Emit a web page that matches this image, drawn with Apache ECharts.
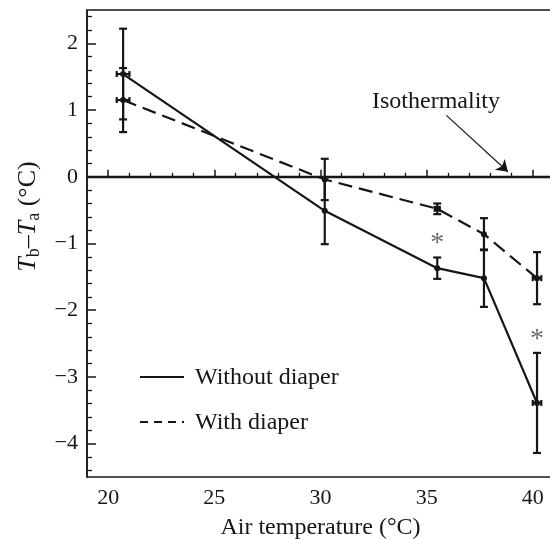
<!DOCTYPE html>
<html>
<head>
<meta charset="utf-8">
<script src="https://cdn.jsdelivr.net/npm/echarts@6/dist/echarts.min.js"></script>
<style>
  html, body { margin: 0; padding: 0; background: #fff; }
  #chart { width: 550px; height: 539px; }
</style>
</head>
<body>
<div id="chart"></div>
<script>
// air temperatures of the groups (°C)
var airTemps = [20.7, 30.2, 35.5, 37.7, 40.2];
// Tb - Ta, mean and error
var withoutDiaper = [1.54, -0.51, -1.37, -1.52, -3.39];
var withoutErr = [0.68, 0.5, 0.16, 0.43, 0.75];
var withoutTempErr = [0.3, 0, 0, 0, 0.2];
var withDiaper = [1.15, -0.04, -0.48, -0.86, -1.52];
var withErr = [0.48, 0.31, 0.08, 0.24, 0.39];
var withTempErr = [0.3, 0, 0.12, 0, 0.2];
// significance marks
var starPoints = [[35.5, -0.9], [40.2, -2.33]];
// axis ticks
var xMajor = [20, 25, 30, 35, 40];
var xMinor = [21, 22, 23, 24, 26, 27, 28, 29, 31, 32, 33, 34, 36, 37, 38, 39, 41];
var yMajor = [-4, -3, -2, -1, 0, 1, 2];
var yMinor = [];
for (var k = -22; k <= 12; k++) {
  if (k % 5 !== 0) yMinor.push(k / 5);
}

var ink = "#161616";
var serif = "Liberation Serif";

function pairs(a, b) {
  return a.map(function (v, i) { return [v, b[i]]; });
}
function errRows(xs, ys, e, ex) {
  return xs.map(function (v, i) { return [v, ys[i], e[i], ex[i]]; });
}

function renderErr(params, api) {
  var x = api.value(0), y = api.value(1), e = api.value(2), ex = api.value(3);
  var hi = api.coord([x, y + e]);
  var lo = api.coord([x, y - e]);
  var st = { stroke: ink, lineWidth: 2.2 };
  var c = 4;
  var kids = [
    { type: "line", shape: { x1: hi[0], y1: hi[1], x2: lo[0], y2: lo[1] }, style: st },
    { type: "line", shape: { x1: hi[0] - c, y1: hi[1], x2: hi[0] + c, y2: hi[1] }, style: st },
    { type: "line", shape: { x1: lo[0] - c, y1: lo[1], x2: lo[0] + c, y2: lo[1] }, style: st }
  ];
  if (ex > 0) {
    var l = api.coord([x - ex, y]);
    var r = api.coord([x + ex, y]);
    kids.push({ type: "line", shape: { x1: l[0], y1: l[1], x2: r[0], y2: r[1] }, style: st });
    kids.push({ type: "line", shape: { x1: l[0], y1: l[1] - 3, x2: l[0], y2: l[1] + 3 }, style: st });
    kids.push({ type: "line", shape: { x1: r[0], y1: r[1] - 3, x2: r[0], y2: r[1] + 3 }, style: st });
  }
  return { type: "group", children: kids };
}

var chart = echarts.init(document.getElementById("chart"));
var option = {
  animation: false,
  grid: {
    left: 87,
    top: 10,
    right: -4,
    bottom: 62,
    outerBoundsMode: "none",
    containLabel: false,
    show: true,
    borderColor: ink,
    borderWidth: 1.5
  },
  xAxis: [
    {
      type: "value",
      min: 19,
      max: 41,
      name: "Air temperature (°C)",
      nameLocation: "middle",
      nameGap: 39,
      nameTextStyle: { fontFamily: serif, fontSize: 24, color: ink },
      axisLine: { show: true, lineStyle: { color: ink, width: 1.5 } },
      axisTick: { inside: true, length: 7, customValues: xMajor, lineStyle: { color: ink, width: 1.5 } },
      axisLabel: { customValues: xMajor, fontFamily: serif, fontSize: 22, color: ink, margin: 10 },
      splitLine: { show: false }
    },
    {
      type: "value",
      min: 19,
      max: 41,
      position: "bottom",
      axisLine: { show: false },
      axisTick: { inside: true, length: 4, customValues: xMinor, lineStyle: { color: ink, width: 1.3 } },
      axisLabel: { show: false },
      splitLine: { show: false }
    }
  ],
  yAxis: [
    {
      type: "value",
      min: -4.5,
      max: 2.5,
      name: "{it|T}{sub|b}–{it|T}{sub|a} (°C)",
      nameLocation: "middle",
      nameGap: 43,
      nameTextStyle: {
        fontFamily: serif, fontSize: 26, color: ink, lineHeight: 32,
        padding: [0, 0, 0, 54],
        rich: {
          it: { fontFamily: serif, fontStyle: "italic", fontSize: 26, color: ink, lineHeight: 32 },
          sub: { fontFamily: serif, fontSize: 18, color: ink, lineHeight: 32, verticalAlign: "bottom" }
        }
      },
      axisLine: { show: true, lineStyle: { color: ink, width: 1.5 } },
      axisTick: { inside: true, length: 9, customValues: yMajor, lineStyle: { color: ink, width: 1.5 } },
      axisLabel: {
        customValues: yMajor,
        fontFamily: serif,
        fontSize: 22,
        color: ink,
        margin: 9,
        formatter: function (v) { return v < 0 ? "\u2212" + Math.abs(v) : String(v); }
      },
      splitLine: { show: false }
    },
    {
      type: "value",
      min: -4.5,
      max: 2.5,
      position: "left",
      axisLine: { show: false },
      axisTick: { inside: true, length: 5, customValues: yMinor, lineStyle: { color: ink, width: 1.3 } },
      axisLabel: { show: false },
      splitLine: { show: false }
    }
  ],
  graphic: [
    {
      type: "text", left: 372, top: 90,
      style: { text: "Isothermality", font: "24px " + serif, fill: ink }
    },
    {
      type: "line", shape: { x1: 140, y1: 377, x2: 184, y2: 377 },
      style: { stroke: ink, lineWidth: 2.2 }
    },
    {
      type: "text", left: 195, top: 366,
      style: { text: "Without diaper", font: "24px " + serif, fill: ink }
    },
    {
      type: "line", shape: { x1: 140, y1: 422, x2: 184, y2: 422 },
      style: { stroke: ink, lineWidth: 2.2, lineDash: [8, 6] }
    },
    {
      type: "text", left: 195, top: 411,
      style: { text: "With diaper", font: "24px " + serif, fill: ink }
    }
  ],
  series: [
    {
      name: "Without diaper",
      type: "line",
      data: pairs(airTemps, withoutDiaper),
      symbol: "circle",
      symbolSize: 6,
      itemStyle: { color: ink },
      lineStyle: { color: ink, width: 2.2 },
      z: 3,
      markLine: {
        silent: true,
        symbol: ["none", "none"],
        label: { show: false },
        lineStyle: { color: ink, width: 2.4, type: "solid" },
        data: [
          { yAxis: 0 },
          [
            { coord: [35.93, 0.92], symbol: "none", lineStyle: { width: 1.2 } },
            { coord: [38.83, 0.075], symbol: "arrow", symbolSize: 11, lineStyle: { width: 1.2 } }
          ]
        ]
      }
    },
    {
      name: "With diaper",
      type: "line",
      data: pairs(airTemps, withDiaper),
      symbol: "circle",
      symbolSize: 6,
      itemStyle: { color: ink },
      lineStyle: { color: ink, width: 2.2, type: [14, 7] },
      z: 3
    },
    {
      type: "custom",
      renderItem: renderErr,
      data: errRows(airTemps, withoutDiaper, withoutErr, withoutTempErr),
      z: 4
    },
    {
      type: "custom",
      renderItem: renderErr,
      data: errRows(airTemps, withDiaper, withErr, withTempErr),
      z: 4
    },
    {
      type: "scatter",
      data: starPoints,
      symbolSize: 0,
      label: {
        show: true,
        position: "inside",
        formatter: "*",
        fontFamily: serif,
        fontSize: 28,
        color: "#444",
        offset: [0, 7]
      },
      z: 5
    }
  ]
};
chart.setOption(option);
</script>
</body>
</html>
